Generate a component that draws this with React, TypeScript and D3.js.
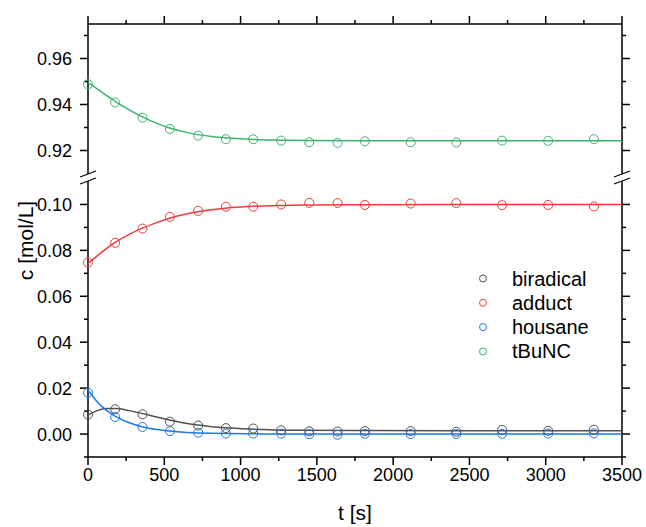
import * as d3 from 'd3';

// sampling times of the measured points [s]
const tPts = [0, 178, 357, 537, 722, 904, 1083, 1266, 1450, 1636, 1815, 2115, 2414, 2714, 3016, 3316];

const biradical = [0.0085, 0.0108, 0.0086, 0.0054, 0.0037, 0.0026, 0.0024, 0.0016, 0.0012, 0.0011, 0.0013, 0.0013, 0.0010, 0.0018, 0.0014, 0.0019];
const adduct = [0.0747, 0.0833, 0.0895, 0.0946, 0.0972, 0.0990, 0.0990, 0.1000, 0.1007, 0.1006, 0.0998, 0.1004, 0.1006, 0.0997, 0.0998, 0.0991];
const housane = [0.0180, 0.0074, 0.0031, 0.0013, 0.0006, 0.0002, 0.0002, 0.0002, -0.0001, -0.0003, 0.0001, 0.0000, 0.0000, 0.0001, 0.0002, 0.0003];
const tBuNC = [0.9488, 0.9409, 0.9343, 0.9294, 0.9265, 0.9249, 0.9249, 0.9243, 0.9236, 0.9233, 0.9240, 0.9236, 0.9235, 0.9243, 0.9242, 0.9249];

const fitT = [0, 60, 120, 180, 270, 360, 450, 540, 630, 720, 810, 900, 1080, 1270, 1450, 1800, 2400, 3500];
const biradicalFit = [0.0082, 0.0102, 0.0111, 0.0111, 0.0102, 0.0089, 0.0074, 0.0060, 0.0048, 0.0039, 0.0032, 0.0027, 0.0021, 0.0017, 0.0016, 0.0015, 0.0014, 0.0014];
const adductFit = [0.0743, 0.0776, 0.0808, 0.0836, 0.0870, 0.0898, 0.0921, 0.0941, 0.0956, 0.0968, 0.0977, 0.0984, 0.0992, 0.0996, 0.0998, 0.0999, 0.1000, 0.1000];
const housaneFit = [0.0192, 0.0141, 0.0104, 0.0077, 0.0049, 0.0031, 0.0020, 0.0013, 0.0008, 0.0005, 0.0003, 0.0002, 0.0001, 0.0000, 0.0000, 0.0000, 0.0000, 0.0000];
const tBuNCFit = [0.9495, 0.9468, 0.9440, 0.9413, 0.9377, 0.9345, 0.9318, 0.9297, 0.9281, 0.9269, 0.9261, 0.9255, 0.9248, 0.9245, 0.9243, 0.9242, 0.9242, 0.9242];

const seriesNames = ['biradical', 'adduct', 'housane', 'tBuNC'];
const seriesColors = ['#505050', '#f03c3c', '#1e78e6', '#3cb46e'];

const W = 646;
const H = 527;
const left = 88;
const right = 622;
const top = 24;
const bottom = 457;
const font = '"Liberation Sans", Arial, sans-serif';

export default function App() {
  const x = d3.scaleLinear().domain([0, 3500]).range([left, right]);
  const yLo = d3.scaleLinear().domain([-0.01, 0.11]).range([bottom, 181.5]);
  const yHi = d3.scaleLinear().domain([0.91, 0.975]).range([173.5, top]);

  const series = [
    { pts: biradical, fit: biradicalFit, y: yLo },
    { pts: adduct, fit: adductFit, y: yLo },
    { pts: housane, fit: housaneFit, y: yLo },
    { pts: tBuNC, fit: tBuNCFit, y: yHi },
  ];

  const key = (v: number) => Math.round(v * 1000);
  const xMajor = x.ticks(7);
  const xMinor = d3.range(0, 3501, 250).filter(v => v % 500 !== 0);
  const loMajor = yLo.ticks(6).filter(v => v >= 0 && v <= 0.1);
  const loMinor = d3.range(-1, 11, 2).map(v => v / 100);
  const hiMajor = [0.92, 0.94, 0.96];
  const hiMinor = [0.93, 0.95, 0.97];
  const fmt = d3.format('.2f');

  const breakTop = 174;
  const breakBot = 181;

  const ax = { stroke: '#000', strokeWidth: 1.5 };

  return (
    <div style={{ position: 'absolute', left: 0, top: 0 }}>
      <svg width={W} height={H} style={{ display: 'block', background: '#fff' }} fontFamily={font}>
        {/* frame */}
        <line x1={left} x2={right} y1={top} y2={top} {...ax} />
        <line x1={left} x2={right} y1={bottom} y2={bottom} {...ax} />
        {[left, right].map(xx => (
          <g key={xx}>
            <line x1={xx} x2={xx} y1={top} y2={breakTop} {...ax} />
            <line x1={xx} x2={xx} y1={breakBot} y2={bottom} {...ax} />
            <line x1={xx - 8} x2={xx + 8} y1={breakTop + 3} y2={breakTop - 3} stroke="#000" strokeWidth={1.2} />
            <line x1={xx - 8} x2={xx + 8} y1={breakBot + 3} y2={breakBot - 3} stroke="#000" strokeWidth={1.2} />
          </g>
        ))}

        {/* x ticks */}
        {xMajor.map(v => (
          <g key={'xM' + v}>
            <line x1={x(v)} x2={x(v)} y1={bottom} y2={bottom + 8} {...ax} />
            <line x1={x(v)} x2={x(v)} y1={top} y2={top - 8} {...ax} />
            <text x={x(v)} y={481} textAnchor="middle" fontSize={18}>{v}</text>
          </g>
        ))}
        {xMinor.map(v => (
          <g key={'xm' + v}>
            <line x1={x(v)} x2={x(v)} y1={bottom} y2={bottom + 4} {...ax} />
            <line x1={x(v)} x2={x(v)} y1={top} y2={top - 4} {...ax} />
          </g>
        ))}

        {/* y ticks */}
        {[...loMajor.map(v => [v, yLo(v)]), ...hiMajor.map(v => [v, yHi(v)])].map(([v, yy]) => (
          <g key={'yM' + key(v)}>
            <line x1={left} x2={left - 8} y1={yy} y2={yy} {...ax} />
            <line x1={right} x2={right + 8} y1={yy} y2={yy} {...ax} />
            <text x={72} y={yy + 6.5} textAnchor="end" fontSize={18}>{fmt(v)}</text>
          </g>
        ))}
        {[...loMinor.map(v => yLo(v)), ...hiMinor.map(v => yHi(v))].map((yy, i) => (
          <g key={'ym' + i}>
            <line x1={left} x2={left - 4} y1={yy} y2={yy} {...ax} />
            <line x1={right} x2={right + 4} y1={yy} y2={yy} {...ax} />
          </g>
        ))}

        {/* titles */}
        <text x={(left + right) / 2} y={520} textAnchor="middle" fontSize={21}>t [s]</text>
        <text transform={`translate(33,${(top + bottom) / 2}) rotate(-90)`} textAnchor="middle" fontSize={21}>c [mol/L]</text>

        {/* fits */}
        {series.map((s, i) => {
          const line = d3.line<number>()
            .x((_, j) => x(fitT[j]))
            .y(d => s.y(d))
            .curve(d3.curveMonotoneX);
          return <path key={'f' + i} d={line(s.fit) || ''} fill="none" stroke={seriesColors[i]} strokeWidth={1.5} />;
        })}

        {/* measured points */}
        {series.map((s, i) => (
          <g key={'p' + i}>
            {s.pts.map((v, j) => (
              <circle key={j} cx={x(tPts[j])} cy={s.y(v)} r={4.5} fill="none" stroke={seriesColors[i]} strokeWidth={1} />
            ))}
          </g>
        ))}

        {/* legend */}
        {seriesNames.map((n, i) => (
          <g key={n} transform={`translate(0,${278.5 + i * 24.3})`}>
            <circle cx={483} cy={0} r={3.5} fill="none" stroke={seriesColors[i]} strokeWidth={1} />
            <text x={512} y={7} fontSize={20}>{n}</text>
          </g>
        ))}
      </svg>
    </div>
  );
}
